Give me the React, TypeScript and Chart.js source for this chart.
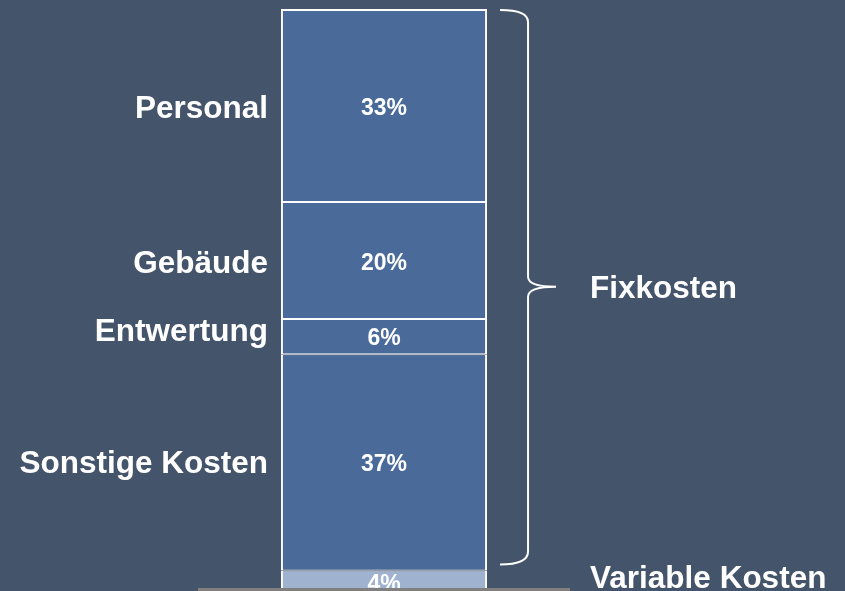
import React, { useEffect, useRef } from "react";
import { Chart, registerables } from "chart.js";

Chart.register(...registerables);

const categories = ["Kosten"];
const segmentNames = ["Variable Kosten", "Sonstige Kosten", "Entwertung", "Gebäude", "Personal"];
const segmentValues = [4, 37, 6, 20, 33];
const percentLabels = ["4%", "37%", "6%", "20%", "33%"];
const groupNames = ["Fixkosten", "Variable Kosten"];

const BG = "#44546A";
const DARK = "#4A6A9A";
const LIGHT = "#9FB2D0";
const FONT = '"Liberation Sans", Arial, Helvetica, sans-serif';

const labelPlugin = {
  id: "costLabels",
  beforeDraw(chart: any) {
    const ctx = chart.ctx;
    ctx.save();
    ctx.fillStyle = BG;
    ctx.fillRect(0, 0, chart.width, chart.height);
    ctx.restore();
  },
  afterDatasetsDraw(chart: any) {
    const ctx = chart.ctx;
    const area = chart.chartArea;
    const metas = segmentValues.map((_, i) => chart.getDatasetMeta(i).data[0]);
    const half = metas[0].width / 2;
    const barLeft = metas[0].x - half;
    const barRight = metas[0].x + half;
    ctx.save();
    ctx.fillStyle = "#FFFFFF";
    ctx.textBaseline = "middle";

    // percent labels
    ctx.font = `bold 23px ${FONT}`;
    ctx.textAlign = "center";
    const pctOffsets = [2, 2, 2, 3, 3];
    metas.forEach((m: any, i: number) => {
      const cy = (m.y + m.base) / 2 + pctOffsets[i];
      ctx.fillText(percentLabels[i], m.x, cy);
    });

    // left labels for fixed cost segments
    ctx.font = `bold 31.5px ${FONT}`;
    ctx.textAlign = "right";
    const leftOffsets = [0, 2, -4, 4, 4];
    for (let i = 1; i < metas.length; i++) {
      const m: any = metas[i];
      const cy = (m.y + m.base) / 2 + leftOffsets[i];
      ctx.fillText(segmentNames[i], barLeft - 13, cy);
    }

    // brace over fixed costs
    const yTop = chart.scales.y.getPixelForValue(100);
    const yBot = chart.scales.y.getPixelForValue(segmentValues[0]) - 6;
    const yMid = (yTop + yBot) / 2;
    const x0 = barRight + 13;
    const xv = barRight + 41;
    const xp = barRight + 69;
    ctx.strokeStyle = "#FFFFFF";
    ctx.lineWidth = 2;
    ctx.beginPath();
    ctx.moveTo(x0, yTop + 1);
    ctx.quadraticCurveTo(xv, yTop + 1, xv, yTop + 13);
    ctx.lineTo(xv, yMid - 10);
    ctx.quadraticCurveTo(xv, yMid, xp, yMid);
    ctx.quadraticCurveTo(xv, yMid, xv, yMid + 10);
    ctx.lineTo(xv, yBot - 13);
    ctx.quadraticCurveTo(xv, yBot, x0, yBot);
    ctx.stroke();

    // right labels
    ctx.font = `bold 31.5px ${FONT}`;
    ctx.textAlign = "left";
    ctx.fillText(groupNames[0], barRight + 103, yMid + 3);
    const v: any = metas[0];
    ctx.fillText(groupNames[1], barRight + 103, (v.y + v.base) / 2 - 3);

    // bottom axis line
    ctx.fillStyle = "#808080";
    ctx.fillRect(area.left, 588, area.right - area.left, 4);
    ctx.restore();
  },
};

export default function App() {
  const ref = useRef<HTMLCanvasElement | null>(null);
  useEffect(() => {
    if (!ref.current) return;
    const chart = new Chart(ref.current, {
      type: "bar",
      data: {
        labels: categories,
        datasets: segmentValues.map((v, i) => ({
          label: segmentNames[i],
          data: [v],
          backgroundColor: i === 0 ? LIGHT : DARK,
          borderColor: "#FFFFFF",
          borderWidth: {
            top: i === segmentValues.length - 1 ? 2 : 1,
            bottom: i === 0 ? 2 : 1,
            left: 2,
            right: 2,
          },
          borderSkipped: false,
          barPercentage: 1,
          categoryPercentage: 0.554,
          stack: "s",
        })),
      },
      options: {
        animation: false,
        responsive: true,
        maintainAspectRatio: false,
        layout: { padding: { top: 9, bottom: 6, left: 198, right: 275 } },
        scales: {
          x: { display: false, stacked: true },
          y: { display: false, stacked: true, min: 0, max: 100 },
        },
        plugins: { legend: { display: false }, tooltip: { enabled: false } },
      },
      plugins: [labelPlugin],
    });
    return () => chart.destroy();
  }, []);
  return (
    <div
      style={{
        position: "fixed",
        left: 0,
        top: 0,
        width: 845,
        height: 591,
        overflow: "hidden",
        background: BG,
      }}
    >
      <div style={{ position: "relative", width: 845, height: 600 }}>
        <canvas ref={ref} />
      </div>
    </div>
  );
}
